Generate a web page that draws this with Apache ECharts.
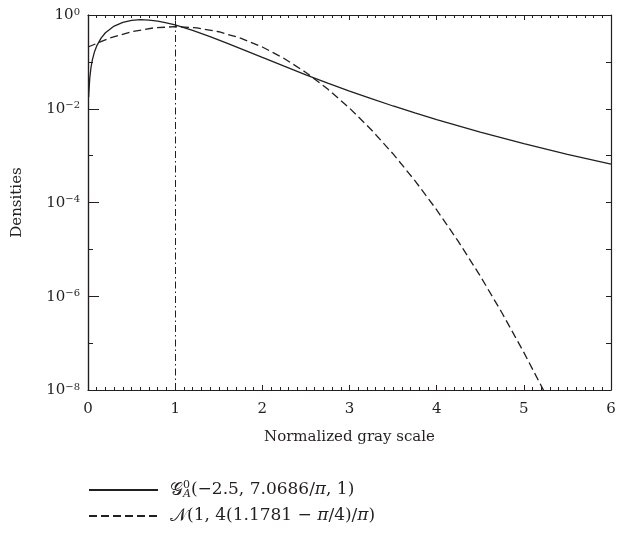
<!DOCTYPE html>
<html><head><meta charset="utf-8">
<script src="https://cdn.jsdelivr.net/npm/echarts@6/dist/echarts.min.js"></script>
<style>html,body{margin:0;padding:0;background:#fff}#c{width:623px;height:533px}</style>
</head><body><div id="c"></div>
<script>
// G_A^0 density (solid)
const gX = [0.008,0.01,0.02,0.035,0.05,0.075,0.1,0.15,0.2,0.3,0.4,0.5,0.6,0.7,0.8,0.9,1.0,1.2,1.4,1.6,1.8,2.0,2.25,2.5,2.75,3.0,3.25,3.5,3.75,4.0,4.5,5.0,5.5,6.0];
const gY = [0.0178,0.0222,0.0444,0.0776,0.1107,0.1652,0.2188,0.3219,0.4179,0.5812,0.6989,0.7684,0.7931,0.7804,0.7403,0.6818,0.6136,0.4720,0.3472,0.2489,0.1762,0.1244,0.0808,0.0530,0.03527,0.02385,0.01639,0.01145,0.008122,0.005850,0.003162,0.001797,0.001067,0.000658];
// Normal density (dashed)
const nX = [0,0.25,0.5,0.75,1.0,1.25,1.5,1.75,2.0,2.25,2.5,2.75,3.0,3.25,3.5,3.75,4.0,4.25,4.5,4.75,5.0,5.25];
const nY = [0.2076,0.3215,0.4394,0.5300,0.5642,0.5300,0.4394,0.3215,0.2076,0.11826,0.05947,0.026388,0.010334,0.0035712,0.0010892,2.9304e-4,6.963e-5,1.4611e-5,2.6998e-6,4.4013e-7,6.349e-8,8.080e-9];
const refLineX = [1];
const xTickLabels = ['0','1','2','3','4','5','6'];
const yTickExps = [0,-2,-4,-6,-8];
const seriesNames = ['gA0','normal'];

const FONT = '"DejaVu Serif","Liberation Serif",serif';
const INK = '#231f20';

function pairs(xs, ys){ return xs.map((x,i)=>[x, ys[i]]); }

const legendText = {
  gA0: '{g|𝒢}{sup|0}{sub|A}{t|(−2.5, 7.0686/}{i|π}{t|, 1)}',
  normal: '{g|𝒩}{t|(1, 4(1.1781 − }{i|π}{t|/4)/}{i|π}{t|)}'
};

const chart = echarts.init(document.getElementById('c'), null, {renderer:'canvas'});
const baseX = {
  type:'value', min:0, max:6, interval:1,
  axisLine:{show:true, onZero:false, lineStyle:{color:INK, width:1.2}},
  axisTick:{show:true, inside:true, length:5, lineStyle:{color:INK, width:1}},
  minorTick:{show:true, splitNumber:10, length:3, lineStyle:{color:INK, width:1}},
  splitLine:{show:false}, minorSplitLine:{show:false}
};
const baseY = {
  type:'log', logBase:10, min:1e-8, max:1,
  axisLine:{show:true, onZero:false, lineStyle:{color:INK, width:1.2}},
  minorTick:{show:false},
  splitLine:{show:false}, minorSplitLine:{show:false}
};
chart.setOption({
  animation:false,
  backgroundColor:'#fff',
  grid:{left:88, top:15, right:12, bottom:143, containLabel:false, outerBoundsMode:'none'},
  xAxis:[
    Object.assign({}, baseX, {position:'bottom',
      axisLabel:{show:true, margin:12, fontSize:15, fontFamily:FONT, color:INK,
        formatter:(v)=>xTickLabels[Math.round(v)] ?? ''},
      name:'Normalized gray scale', nameLocation:'middle', nameGap:40,
      nameTextStyle:{fontSize:15, fontFamily:FONT, color:INK}}),
    Object.assign({}, baseX, {position:'top', axisLabel:{show:false}})
  ],
  yAxis:[
    // labelled axis: every two decades, long ticks
    Object.assign({}, baseY, {position:'left', interval:2,
      axisTick:{show:true, inside:true, length:11, lineStyle:{color:INK, width:1}},
      axisLabel:{show:true, margin:8, fontFamily:FONT, color:INK,
        formatter:(v)=>{const e=Math.round(Math.log10(v)); if(!yTickExps.includes(e)) return ''; return '{b|10}{s|'+(e<0?'−'+(-e):e)+'}';},
        rich:{
          b:{fontSize:15, fontFamily:FONT, color:INK, verticalAlign:'bottom', lineHeight:16},
          s:{fontSize:10, fontFamily:FONT, color:INK, verticalAlign:'top', lineHeight:12}
        }},
      name:'Densities', nameLocation:'middle', nameGap:63, nameRotate:90,
      nameTextStyle:{fontSize:15, fontFamily:FONT, color:INK}}),
    // right frame: every decade, short ticks
    Object.assign({}, baseY, {position:'right', interval:1,
      axisTick:{show:true, inside:true, length:5, lineStyle:{color:INK, width:1}},
      axisLabel:{show:false}}),
    // left short ticks at every decade
    Object.assign({}, baseY, {position:'left', offset:0, interval:1,
      axisTick:{show:true, inside:true, length:5, lineStyle:{color:INK, width:1}},
      axisLabel:{show:false}})
  ],
  legend:{
    orient:'vertical', left:88, top:480, padding:0, itemWidth:69, itemHeight:14, itemGap:7,
    data:seriesNames,
    formatter:(name)=>legendText[name],
    itemStyle:{color:'rgba(0,0,0,0)', borderColor:'rgba(0,0,0,0)', borderWidth:0, opacity:0},
    textStyle:{fontSize:17, fontFamily:FONT, color:INK, padding:[0,0,0,7],
      rich:{
        g:{fontSize:18, fontFamily:'"DejaVu Serif","DejaVu Sans",serif', color:INK, lineHeight:20},
        sup:{fontSize:11, fontFamily:FONT, color:INK, width:0, verticalAlign:'top', lineHeight:11},
        sub:{fontSize:11, fontFamily:FONT, color:INK, fontStyle:'italic', verticalAlign:'bottom', lineHeight:11},
        t:{fontSize:17, fontFamily:FONT, color:INK, lineHeight:20},
        i:{fontSize:17, fontFamily:FONT, color:INK, fontStyle:'italic', lineHeight:20}
      }}
  },
  series:[
    {name:seriesNames[0], type:'line', xAxisIndex:0, yAxisIndex:0, data:pairs(gX,gY),
     symbol:'none', smooth:false, clip:true,
     lineStyle:{color:INK, width:1.3, type:'solid'}, itemStyle:{color:INK},
     markLine:{silent:true, symbol:['none','none'], label:{show:false},
       lineStyle:{color:INK, width:1, type:[7,3,1.5,3]},
       data:refLineX.map(v=>({xAxis:v}))}},
    {name:seriesNames[1], type:'line', xAxisIndex:0, yAxisIndex:0, data:pairs(nX,nY),
     symbol:'none', smooth:false, clip:true,
     lineStyle:{color:INK, width:1.3, type:[8,4]}, itemStyle:{color:INK}}
  ]
});
</script></body></html>
